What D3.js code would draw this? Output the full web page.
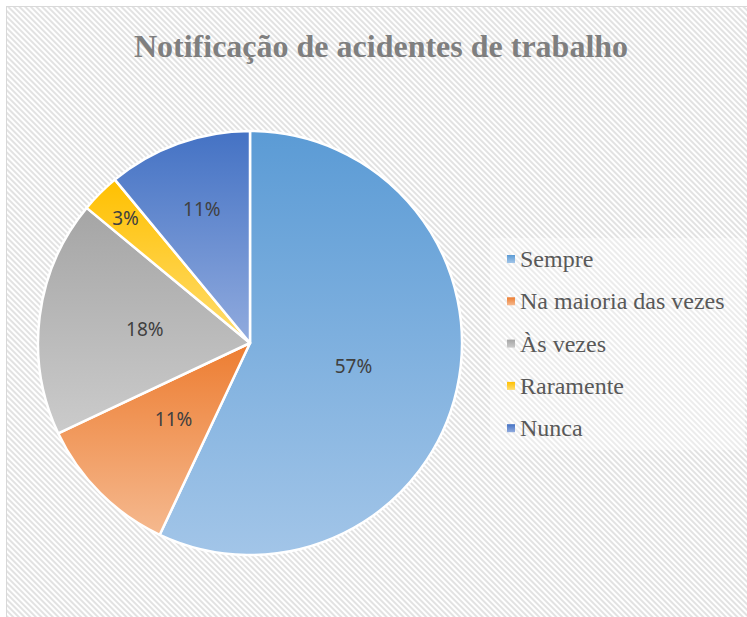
<!DOCTYPE html>
<html lang="pt">
<head>
    <meta charset="UTF-8">
    <title>Notificação de acidentes de trabalho</title>
    <script src="https://d3js.org/d3.v7.min.js"></script>
    <style>
        body { margin: 0; background: #fff; }
    </style>
</head>
<body>
    <svg id="chart"></svg>

    <script>
        // dados
        const categories = ["Sempre", "Na maioria das vezes", "Às vezes", "Raramente", "Nunca"];
        const values = [57, 11, 18, 3, 11];
        const colorsTop = ["#5b9bd5", "#ed7d31", "#a5a5a5", "#ffc000", "#4472c4"];
        const colorsBottom = ["#a2c5e8", "#f5b98f", "#cbcbcb", "#ffdd70", "#91abde"];

        const width = 747, height = 617;
        const cx = 250, cy = 343, radius = 212;
        const serif = "'Liberation Serif', 'Times New Roman', serif";

        const svg = d3.select("#chart")
            .attr("width", width)
            .attr("height", height);

        const defs = svg.append("defs");

        // fundo listrado
        const pattern = defs.append("pattern")
            .attr("id", "hatch")
            .attr("patternUnits", "userSpaceOnUse")
            .attr("width", 4)
            .attr("height", 4)
            .attr("patternTransform", "rotate(-45)");
        pattern.append("rect").attr("width", 4).attr("height", 4).attr("fill", "#ffffff");
        pattern.append("rect").attr("width", 2).attr("height", 4).attr("fill", "#e2e2e2");

        categories.forEach((c, i) => {
            const g = defs.append("linearGradient")
                .attr("id", "grad" + i)
                .attr("x1", 0).attr("y1", 0).attr("x2", 0).attr("y2", 1);
            g.append("stop").attr("offset", "0%").attr("stop-color", colorsTop[i]);
            g.append("stop").attr("offset", "100%").attr("stop-color", colorsBottom[i]);
        });

        svg.append("rect")
            .attr("x", 6.5).attr("y", 6.5)
            .attr("width", width).attr("height", height)
            .attr("fill", "url(#hatch)")
            .attr("stroke", "#d9d9d9");

        svg.append("text")
            .attr("x", 381)
            .attr("y", 57)
            .attr("text-anchor", "middle")
            .attr("font-family", serif)
            .attr("font-weight", "bold")
            .attr("font-size", 32)
            .attr("fill", "#7f7f7f")
            .text("Notificação de acidentes de trabalho");

        const pie = d3.pie().sort(null).value(d => d);
        const arcs = pie(values);
        const total = d3.sum(values);

        const arc = d3.arc().innerRadius(0).outerRadius(radius);

        const g = svg.append("g").attr("transform", `translate(${cx},${cy})`);

        g.selectAll("path")
            .data(arcs)
            .join("path")
            .attr("d", arc)
            .attr("fill", (d, i) => `url(#grad${i})`)
            .attr("stroke", "#fff")
            .attr("stroke-width", 2.5)
            .attr("stroke-linejoin", "round");

        // Excel empurra os rótulos das fatias pequenas para fora
        const labelFactor = [0.5, 0.51, 0.5, 0.83, 0.67];
        g.selectAll("text.pct")
            .data(arcs)
            .join("text")
            .attr("class", "pct")
            .attr("text-anchor", "middle")
            .attr("dy", "0.35em")
            .attr("font-family", "'Noto Sans', 'Liberation Sans', sans-serif")
            .attr("font-size", 19)
            .attr("fill", "#404040")
            .attr("transform", (d, i) => {
                const r = radius * labelFactor[i];
                const a = (d.startAngle + d.endAngle) / 2;
                return `translate(${Math.sin(a) * r},${-Math.cos(a) * r})`;
            })
            .text(d => Math.round(d.value / total * 100) + "%");

        // legenda
        svg.append("rect")
            .attr("x", 490).attr("y", 238)
            .attr("width", 255).attr("height", 212)
            .attr("fill", "#fff")
            .attr("fill-opacity", 0.35);

        const legend = svg.append("g")
            .attr("transform", "translate(507,259)");

        const items = legend.selectAll("g")
            .data(categories)
            .join("g")
            .attr("transform", (d, i) => `translate(0,${i * 42.3})`);

        items.append("rect")
            .attr("x", 0).attr("y", -4)
            .attr("width", 8).attr("height", 8)
            .attr("fill", (d, i) => `url(#grad${i})`);

        items.append("text")
            .attr("x", 13)
            .attr("dy", "0.33em")
            .attr("font-family", serif)
            .attr("font-size", 24)
            .attr("fill", "#595959")
            .text(d => d);
    </script>
</body>
</html>
